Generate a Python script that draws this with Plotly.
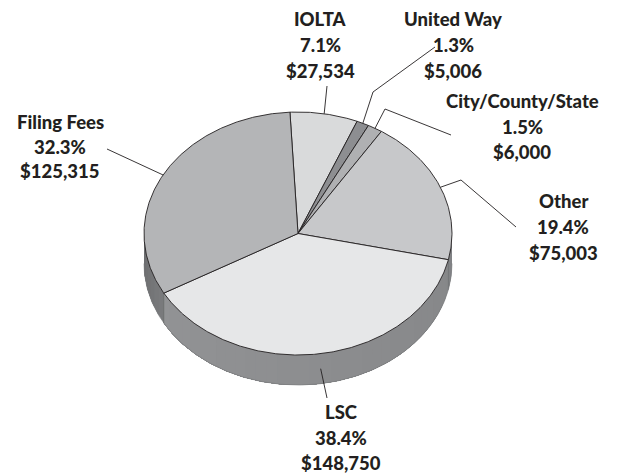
import numpy as np
import plotly.graph_objects as go

# ---- data ----
labels = ["IOLTA", "United Way", "City/County/State", "Other", "LSC", "Filing Fees"]
percents = ["7.1%", "1.3%", "1.5%", "19.4%", "38.4%", "32.3%"]
amounts = [27534, 5006, 6000, 75003, 148750, 125315]

# ---- style / layout ----
top_colors = ["#d9dadb", "#8d8e91", "#afb0b2", "#c7c8ca", "#e6e7e8", "#b4b5b7"]
# side shading: (colour at slice start angle, colour at slice end angle)
side_shades = [((154, 155, 157), (154, 155, 157)), ((111, 112, 115), (111, 112, 115)),
               ((133, 134, 136), (133, 134, 136)), ((128, 129, 132), (131, 132, 135)),
               ((134, 135, 137), (146, 147, 149)), ((122, 123, 125), (106, 107, 109))]
CX, CY, RX, RY, DEPTH = 298, 233.5, 154, 121.5, 30
START = -3.0  # degrees, clockwise from 12 o'clock
# label anchor (first line centre) and leader elbow points
label_pos = [(320, 19), (453, 19), (522, 101), (563, 201), (341, 412), (60, 122)]
line_gap = [26, 26, 25.5, 26, 25.5, 24.5]
elbows = [[(327, 86)], [(373, 92), (435, 47)], [(385, 109), (451, 135)],
          [(461, 180), (516, 227)], [(327, 398)], [(107, 149)]]
leader_drop = [0, 0, 0, 0, 15, 0]

def pt(t, dy=0.0):
    r = np.radians(t)
    return CX + RX * np.sin(r), CY - RY * np.cos(r) + dy

total = float(sum(amounts))
bounds = [START]
for a in amounts:
    bounds.append(bounds[-1] + 360.0 * a / total)

fig = go.Figure()

# sides (front half only: 90..270 deg); overlapping bands give a soft shade
for i in range(len(amounts)):
    a0, a1 = max(bounds[i], 90), min(bounds[i + 1], 270)
    if a1 <= a0:
        continue
    n = max(1, int((a1 - a0) / 4))
    edges = np.linspace(a0, a1, n + 1)
    c0, c1 = np.array(side_shades[i][0]), np.array(side_shades[i][1])
    for j in range(n):
        f = (j + 0.5) / n
        c = (c0 + (c1 - c0) * f).round().astype(int)
        col = f"rgb({c[0]},{c[1]},{c[2]})"
        ts = np.linspace(edges[j], a1, max(4, int((a1 - edges[j]) * 1.5)))
        xs_top, ys_top = pt(ts)
        xs_bot, ys_bot = pt(ts[::-1], DEPTH)
        xs = np.concatenate([xs_top, xs_bot, xs_top[:1]])
        ys = np.concatenate([ys_top, ys_bot, ys_top[:1]])
        fig.add_trace(go.Scatter(x=xs, y=ys, mode="lines", fill="toself",
                                 fillcolor=col, line=dict(width=0),
                                 hoverinfo="skip", showlegend=False))
    # slice boundary edge on the side
    if bounds[i] > 90:
        ex, ey = pt(np.array([bounds[i], bounds[i]]), np.array([0, DEPTH]))
        fig.add_trace(go.Scatter(x=ex, y=ey, mode="lines",
                                 line=dict(color="#5f6062", width=0.5),
                                 hoverinfo="skip", showlegend=False))

# outer bottom edge of the side
tb = np.linspace(90, 270, 200)
bx, by = pt(tb, DEPTH)
fig.add_trace(go.Scatter(x=bx, y=by, mode="lines",
                         line=dict(color="#77787a", width=0.6),
                         hoverinfo="skip", showlegend=False))

# top faces
for i in range(len(amounts)):
    ts = np.linspace(bounds[i], bounds[i + 1], max(8, int((bounds[i + 1] - bounds[i]) * 2)))
    ax, ay = pt(ts)
    xs = np.concatenate([[CX], ax, [CX]])
    ys = np.concatenate([[CY], ay, [CY]])
    fig.add_trace(go.Scatter(x=xs, y=ys, mode="lines", fill="toself",
                             fillcolor=top_colors[i],
                             line=dict(color="#231f20", width=0.9),
                             hoverinfo="text", text=f"{labels[i]} {percents[i]} ${amounts[i]:,}",
                             showlegend=False))

# leader lines and labels
for i in range(len(amounts)):
    mid = (bounds[i] + bounds[i + 1]) / 2
    sx, sy = pt(mid, leader_drop[i])
    lx = [sx] + [p[0] for p in elbows[i]]
    ly = [sy] + [p[1] for p in elbows[i]]
    fig.add_trace(go.Scatter(x=lx, y=ly, mode="lines",
                             line=dict(color="#231f20", width=0.9),
                             hoverinfo="skip", showlegend=False))
    x0, y0 = label_pos[i]
    for k, txt in enumerate([labels[i], percents[i], f"${amounts[i]:,}"]):
        fig.add_annotation(x=x0, y=y0 + k * line_gap[i], text=txt, showarrow=False,
                           xanchor="center", yanchor="middle",
                           font=dict(family="Lato", size=18.5, color="#231f20", weight=900))

fig.update_layout(
    width=626, height=475,
    margin=dict(l=0, r=0, t=0, b=0),
    paper_bgcolor="white", plot_bgcolor="white",
    xaxis=dict(range=[0, 626], visible=False, fixedrange=True),
    yaxis=dict(range=[475, 0], visible=False, fixedrange=True),
    showlegend=False,
)
fig.write_html("out.html", config={"displayModeBar": False})

# remove the browser's default page margin so the figure sits at the top-left corner
with open("out.html", "r", encoding="utf-8") as f:
    html = f.read()
html = html.replace("<head>", "<head><style>html,body{margin:0;padding:0;overflow:hidden;}</style>", 1)
with open("out.html", "w", encoding="utf-8") as f:
    f.write(html)
